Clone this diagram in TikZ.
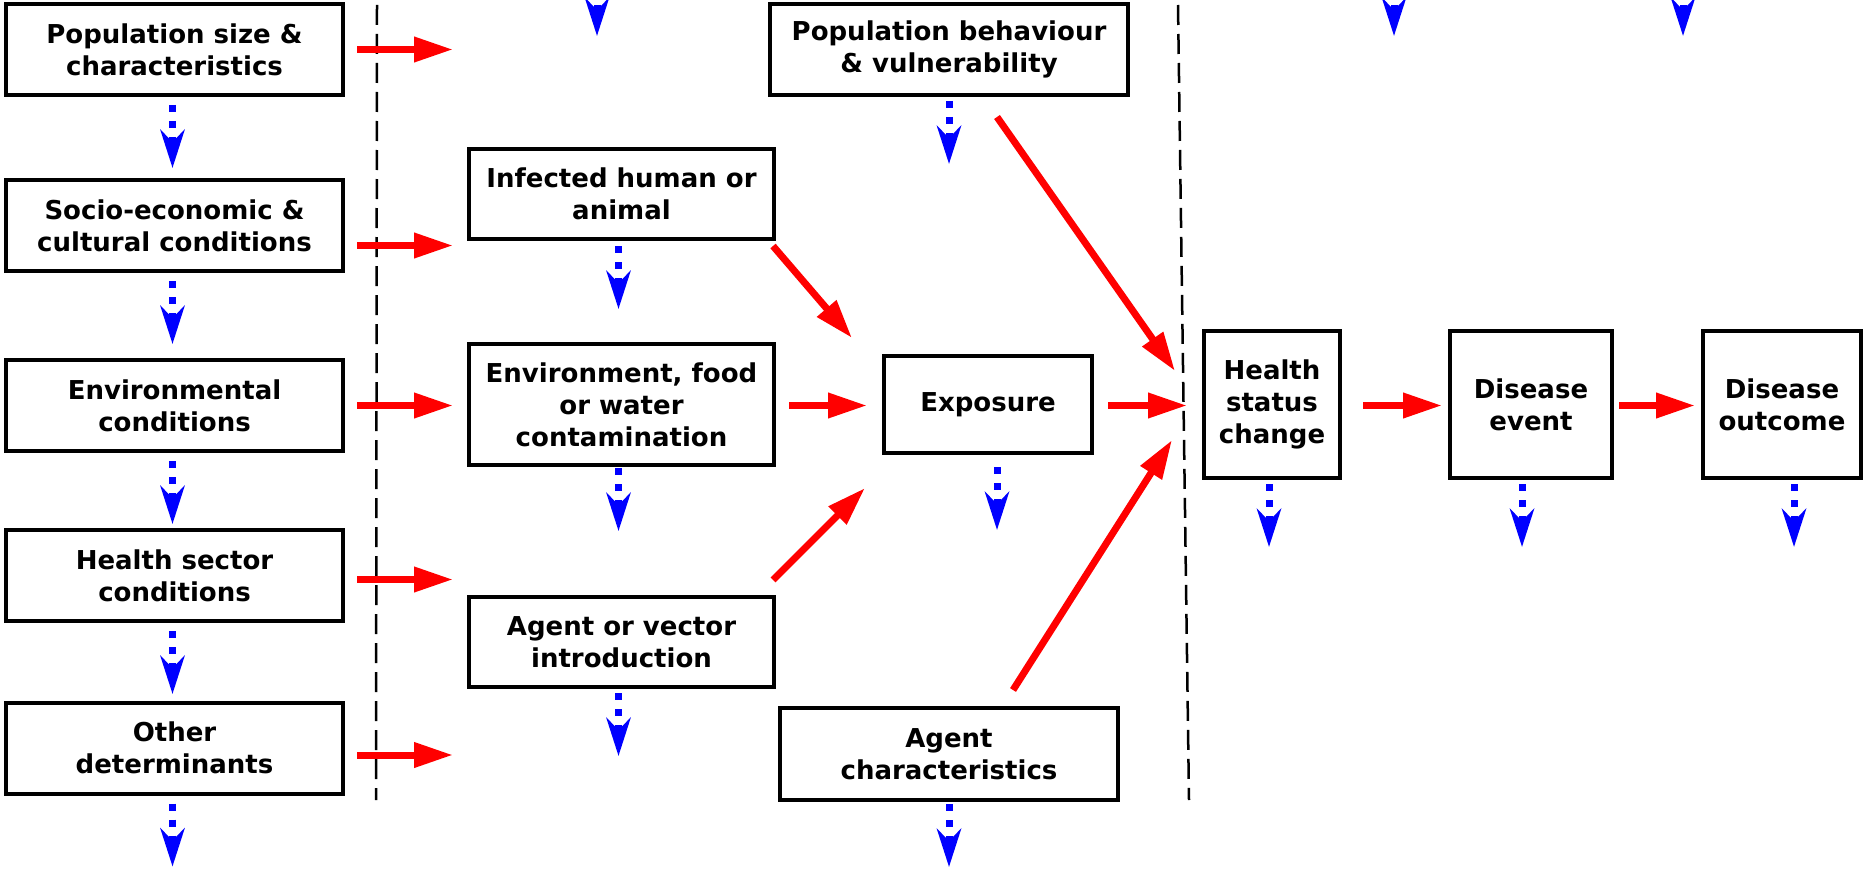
\documentclass[tikz,border=0pt]{standalone}
\usepackage{fontspec}
\setmainfont{DejaVu Sans}
\usetikzlibrary{arrows.meta}
\tikzset{
  box/.style={draw=black, line width=4pt, outer sep=0pt, inner sep=0pt, align=center,
    font=\fontsize{26pt}{32pt}\selectfont\bfseries},
  redarrow/.style={draw=red, line width=7pt, -{Triangle[length=39pt,width=24pt]}},
  bluearrow/.style={draw=blue, line width=7pt, dash pattern=on 7pt off 9pt,
    -{Stealth[length=38pt,width=24pt,inset=12pt]}},
  sep/.style={draw=black, line width=2.5pt, dash pattern=on 20pt off 9pt}
}
\begin{document}
\begin{tikzpicture}[x=1pt,y=-1pt]
\useasboundingbox (0,0) rectangle (1865,872);
\clip (0,0) rectangle (1865,872);
% left column
\node[box, minimum width=337pt, minimum height=91pt] (p1) at (174.5,49.5) {Population size \&\\characteristics};
\node[box, minimum width=337pt, minimum height=91pt] (p2) at (174.5,225.5) {Socio-economic \&\\cultural conditions};
\node[box, minimum width=337pt, minimum height=91pt] (p3) at (174.5,405.5) {Environmental\\conditions};
\node[box, minimum width=337pt, minimum height=91pt] (p4) at (174.5,575.5) {Health sector\\conditions};
\node[box, minimum width=337pt, minimum height=91pt] (p5) at (174.5,748) {Other\\determinants};
% middle column
\node[box, minimum width=305pt, minimum height=90pt] (inf) at (621.5,194) {Infected human or\\animal};
\node[box, minimum width=305pt, minimum height=121pt] (env) at (621.5,404.5) {Environment, food\\or water\\contamination};
\node[box, minimum width=305pt, minimum height=90pt] (intro) at (621.5,642) {Agent or vector\\introduction};
\node[box, minimum width=358pt, minimum height=91pt] (pb) at (949,49.5) {Population behaviour\\\& vulnerability};
\node[box, minimum width=208pt, minimum height=97pt] (ex) at (988,404.5) {Exposure};
\node[box, minimum width=338pt, minimum height=92pt] (ac) at (949,754) {Agent\\characteristics};
% right column
\node[box, minimum width=136pt, minimum height=147pt] (hs) at (1272,404.5) {Health\\status\\change};
\node[box, minimum width=162pt, minimum height=147pt] (de) at (1531,404.5) {Disease\\event};
\node[box, minimum width=158pt, minimum height=147pt] (do) at (1782,404.5) {Disease\\outcome};
% separators
\coordinate (s1a) at (377,5); \coordinate (s1b) at (376,800);
\coordinate (s2a) at (1178,5); \coordinate (s2b) at (1189,800);
\draw[sep] (s1a) -- (s1b);
\draw[sep] (s2a) -- (s2b);
% red arrows, left column
\draw[redarrow] ([xshift=14pt]p1.east) -- ++(96,0);
\draw[redarrow] ([xshift=14pt,yshift=-20pt]p2.east) -- ++(96,0);
\draw[redarrow] ([xshift=14pt]p3.east) -- ++(96,0);
\draw[redarrow] ([xshift=14pt,yshift=-4pt]p4.east) -- ++(96,0);
\draw[redarrow] ([xshift=14pt,yshift=-7pt]p5.east) -- ++(96,0);
% red arrows, chain
\draw[redarrow] ([xshift=15pt,yshift=-1pt]env.east) -- ([xshift=-17pt,yshift=-1pt]ex.west);
\draw[redarrow] ([xshift=16pt,yshift=-1pt]ex.east) -- ([xshift=-17pt,yshift=-1pt]hs.west);
\draw[redarrow] ([xshift=23pt,yshift=-1pt]hs.east) -- ([xshift=-8pt,yshift=-1pt]de.west);
\draw[redarrow] ([xshift=7pt,yshift=-1pt]de.east) -- ([xshift=-8pt,yshift=-1pt]do.west);
% red diagonal arrows
\draw[redarrow] ([xshift=-1pt,yshift=-7pt]inf.south east) -- ([xshift=-32pt,yshift=18pt]ex.north west);
\draw[redarrow] ([xshift=-1pt,yshift=17pt]intro.north east) -- ([xshift=-19pt,yshift=-35pt]ex.south west);
\draw[redarrow] ([xshift=48pt,yshift=-22pt]pb.south) -- ([xshift=-29pt,yshift=-40pt]hs.north west);
\draw[redarrow] ([xshift=64pt,yshift=18pt]ac.north) -- ([xshift=-32pt,yshift=38pt]hs.south west);
% blue dotted arrows
\draw[bluearrow] ([xshift=-2pt,yshift=-10pt]p1.south) -- ++(0,63);
\draw[bluearrow] ([xshift=-2pt,yshift=-10pt]p2.south) -- ++(0,63);
\draw[bluearrow] ([xshift=-2pt,yshift=-10pt]p3.south) -- ++(0,63);
\draw[bluearrow] ([xshift=-2pt,yshift=-10pt]p4.south) -- ++(0,63);
\draw[bluearrow] ([xshift=-2pt,yshift=-10pt]p5.south) -- ++(0,63);
\draw[bluearrow] ([xshift=-3pt,yshift=-7pt]inf.south) -- ++(0,63);
\draw[bluearrow] ([xshift=-3pt,yshift=-3pt]env.south) -- ++(0,63);
\draw[bluearrow] ([xshift=-3pt,yshift=-6pt]intro.south) -- ++(0,63);
\draw[bluearrow] ([yshift=-6pt]pb.south) -- ++(0,63);
\draw[bluearrow] ([xshift=9pt,yshift=-14pt]ex.south) -- ++(0,63);
\draw[bluearrow] ([yshift=-4pt]ac.south) -- ++(0,63);
\draw[bluearrow] ([xshift=-3pt,yshift=-6pt]hs.south) -- ++(0,63);
\draw[bluearrow] ([xshift=-9pt,yshift=-6pt]de.south) -- ++(0,63);
\draw[bluearrow] ([xshift=12pt,yshift=-6pt]do.south) -- ++(0,63);
% blue arrows entering from the top edge
\coordinate (t1) at (597,-27); \coordinate (t2) at (1394,-27); \coordinate (t3) at (1683,-27);
\draw[bluearrow] (t1) -- ++(0,63);
\draw[bluearrow] (t2) -- ++(0,63);
\draw[bluearrow] (t3) -- ++(0,63);
\end{tikzpicture}
\end{document}
